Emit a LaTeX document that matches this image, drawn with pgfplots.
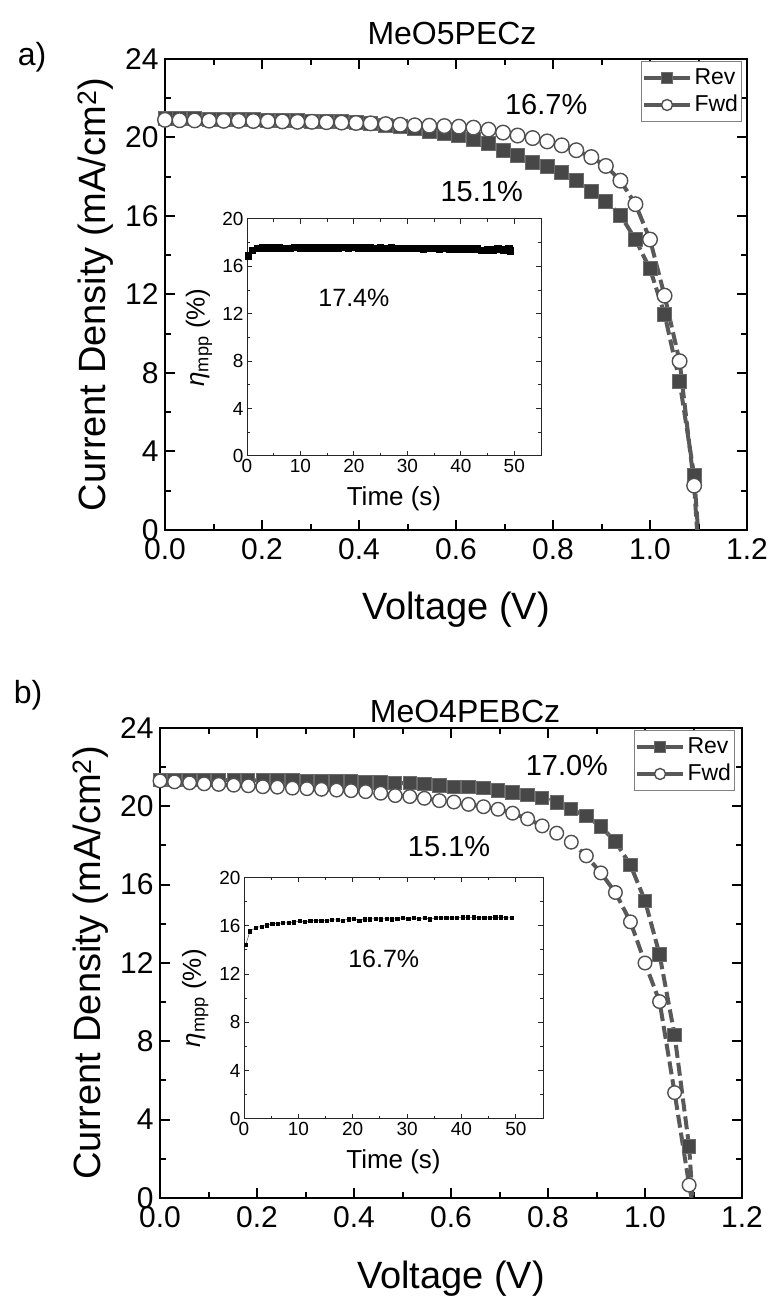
\documentclass[border=0pt]{standalone}
\usepackage{fontspec}
\setmainfont{Liberation Sans}
\usepackage{pgfplots}
\pgfplotsset{compat=1.18}
\usepackage{pgfplotstable}

\definecolor{lin}{HTML}{595959}
\definecolor{sqf}{HTML}{474747}
\definecolor{sqd}{HTML}{6B6B6B}
\definecolor{cid}{HTML}{505050}

\pgfplotstableread{
V rev fwd
0.000 20.95 20.90
0.030 20.95 20.88
0.061 20.95 20.87
0.091 20.93 20.86
0.121 20.92 20.85
0.152 20.90 20.85
0.182 20.90 20.84
0.212 20.88 20.83
0.242 20.87 20.82
0.273 20.85 20.80
0.303 20.83 20.80
0.333 20.82 20.78
0.364 20.80 20.76
0.394 20.75 20.74
0.424 20.70 20.72
0.455 20.63 20.68
0.485 20.55 20.65
0.515 20.45 20.62
0.545 20.33 20.60
0.576 20.20 20.58
0.606 20.08 20.55
0.636 19.90 20.50
0.667 19.67 20.40
0.697 19.35 20.25
0.727 19.06 20.10
0.758 18.75 19.97
0.788 18.50 19.80
0.818 18.20 19.60
0.848 17.80 19.35
0.879 17.27 19.00
0.909 16.75 18.55
0.939 16.05 17.80
0.970 14.80 16.60
1.000 13.30 14.80
1.030 11.00 11.94
1.061 7.56 8.60
1.091 2.77 2.26
}\dataA

\pgfplotstableread{
V rev fwd
0.000 21.35 21.30
0.030 21.35 21.25
0.061 21.35 21.20
0.091 21.35 21.15
0.121 21.35 21.12
0.152 21.33 21.08
0.182 21.33 21.05
0.212 21.33 21.00
0.242 21.32 20.98
0.273 21.32 20.93
0.303 21.30 20.90
0.333 21.30 20.87
0.364 21.30 20.83
0.394 21.28 20.80
0.424 21.25 20.75
0.455 21.22 20.67
0.485 21.18 20.55
0.515 21.18 20.50
0.545 21.14 20.41
0.576 21.06 20.29
0.606 21.00 20.22
0.636 21.00 20.10
0.667 20.95 19.98
0.697 20.80 19.85
0.727 20.70 19.65
0.758 20.58 19.36
0.788 20.41 19.00
0.818 20.19 18.63
0.848 19.85 18.17
0.879 19.51 17.47
0.909 18.96 16.60
0.939 18.20 15.60
0.970 17.00 14.10
1.000 15.18 12.00
1.030 12.43 10.03
1.061 8.32 5.38
1.091 2.62 0.66
}\dataB

\pgfplotstableread{
t eta
0.3 16.90
1 17.35
2 17.50
3 17.55
4 17.55
5 17.55
6 17.55
7 17.50
8 17.50
9 17.60
10 17.55
11 17.55
12 17.55
13 17.55
14 17.55
15 17.55
16 17.55
17 17.55
18 17.60
19 17.55
20 17.60
21 17.55
22 17.55
23 17.55
24 17.50
25 17.55
26 17.50
27 17.55
28 17.50
29 17.50
30 17.50
31 17.50
32 17.50
33 17.45
34 17.50
35 17.50
36 17.45
37 17.50
38 17.45
39 17.45
40 17.45
41 17.45
42 17.45
43 17.45
44 17.35
45 17.40
46 17.40
47 17.45
48 17.40
49 17.45
49.3 17.30
}\mppA

\pgfplotstableread{
t eta
0.3 14.40
1.1 15.55
2.2 15.85
3.2 15.95
4.2 16.05
5.2 16.15
6.2 16.20
7.2 16.25
8.2 16.25
9.2 16.30
10.2 16.40
11.2 16.35
12.2 16.40
13.2 16.45
14.2 16.45
15.2 16.45
16.2 16.50
17.2 16.50
18.2 16.45
19.2 16.55
20.2 16.60
21.2 16.45
22.2 16.55
23.2 16.55
24.2 16.60
25.2 16.55
26.2 16.60
27.2 16.55
28.2 16.60
29.2 16.65
30.2 16.60
31.2 16.65
32.2 16.60
33.2 16.65
34.2 16.55
35.2 16.65
36.2 16.65
37.2 16.65
38.2 16.65
39.2 16.65
40.2 16.70
41.2 16.70
42.2 16.70
43.2 16.65
44.2 16.65
45.2 16.65
46.2 16.70
47.2 16.70
48.2 16.65
49.2 16.65
}\mppB

\pgfplotsset{
  mainax/.style={
    scale only axis, width=582pt,
    xmin=0, xmax=1.2, ymin=0, ymax=24,
    xtick={0,0.2,0.4,0.6,0.8,1.0,1.2},
    xticklabels={0.0,0.2,0.4,0.6,0.8,1.0,1.2},
    ytick={0,4,8,12,16,20,24},
    minor x tick num=1, minor y tick num=1,
    tick align=inside, xtick pos=both, ytick pos=both,
    axis line style={line width=2.5pt},
    major tick length=10pt, minor tick length=6pt,
    tick style={line width=2pt, black},
    tick label style={font=\fontsize{30}{32}\selectfont},
    xticklabel style={yshift=-5pt},
    yticklabel style={xshift=-3pt},
    /pgf/number format/assume math mode=true,
    xlabel={Voltage (V)},
    ylabel={Current Density (mA/cm\textsuperscript{2})},
    label style={font=\fontsize{38}{40}\selectfont},
    ylabel style={at={(axis description cs:-0.1186,0.5)}, anchor=center},
    legend cell align=left,
    legend style={draw=gray, line width=1pt, fill=white,
      font=\fontsize{23}{25}\selectfont, inner xsep=1pt, inner ysep=4pt,
      row sep=2pt, nodes={inner sep=2.5pt, text height=17pt, text depth=3pt}},
    legend image code/.code={%
      \draw[mark repeat=2, mark phase=2, #1, solid, mark size=5.5pt]
        plot coordinates {(0pt,0pt) (23pt,0pt) (46pt,0pt)};},
  },
  rev/.style={color=lin, line width=4pt, dash pattern=on 13pt off 5pt,
    mark=square*, mark size=7pt,
    mark options={solid, fill=sqf, draw=sqd, line width=1pt}},
  fwd/.style={color=lin, line width=4pt, dash pattern=on 13pt off 5pt,
    mark=*, mark size=7.3pt,
    mark options={solid, fill=white, draw=cid, line width=1.4pt}},
  tail/.style={color=lin, line width=4pt, dash pattern=on 13pt off 5pt, forget plot},
  inset/.style={
    scale only axis,
    xmin=0, xmax=55, ymin=0, ymax=20,
    xtick={0,10,20,30,40,50}, ytick={0,4,8,12,16,20},
    minor x tick num=1, minor y tick num=1,
    tick align=inside, xtick pos=both, ytick pos=both,
    axis line style={line width=1pt, black!85},
    major tick length=5pt, minor tick length=3pt,
    tick style={line width=1pt, black!85},
    tick label style={font=\fontsize{19}{20}\selectfont},
    /pgf/number format/assume math mode=true,
    xlabel={Time (s)},
    ylabel={{\itshape η}\textsubscript{mpp} (\%)},
    label style={font=\fontsize{26}{28}\selectfont},
    xlabel style={at={(axis description cs:0.5,-0.207)}, anchor=base},
    ylabel style={at={(axis description cs:-0.163,0.5)}, anchor=center},
    axis background/.style={fill=white},
  },
}

\begin{document}
\begin{tikzpicture}
\path[use as bounding box] (0pt,0pt) rectangle (774pt,1297pt);

% ---------- panel a ----------
\node[font=\fontsize{32}{34}\selectfont] at (32pt,1240pt) {a)};
\node[font=\fontsize{32}{34}\selectfont] at (452pt,1263.5pt) {MeO5PECz};
\begin{axis}[mainax, at={(165pt,767pt)}, anchor=south west, height=471pt,
  xlabel style={at={(axis description cs:0.5,-0.191)}, anchor=base},
  legend style={at={(axis description cs:1,1)}, anchor=north east, xshift=-5pt, yshift=-2pt}]
  \addplot[tail] coordinates {(1.091,2.77) (1.099,0) (1.108,-3)};
  \addplot[tail] coordinates {(1.091,2.26) (1.097,0) (1.106,-3)};
  \addplot[rev] table[x=V, y=rev] {\dataA};
  \addlegendentry{Rev}
  \addplot[fwd] table[x=V, y=fwd] {\dataA};
  \addlegendentry{Fwd}
  \node[font=\fontsize{29}{31}\selectfont] at (axis cs:0.786,21.66) {16.7\%};
  \node[font=\fontsize{29}{31}\selectfont] at (axis cs:0.653,17.22) {15.1\%};
\end{axis}
\begin{axis}[inset, at={(247pt,841pt)}, anchor=south west, width=294pt, height=237pt]
  \addplot[black, line width=2pt, mark=square*, mark size=2.8pt] table[x=t, y=eta] {\mppA};
  \node[font=\fontsize{25}{27}\selectfont] at (axis cs:20,13.33) {17.4\%};
\end{axis}

% ---------- panel b ----------
\node[font=\fontsize{32}{34}\selectfont] at (28pt,602pt) {b)};
\node[font=\fontsize{32}{34}\selectfont] at (465pt,585.5pt) {MeO4PEBCz};
\begin{axis}[mainax, at={(160pt,99pt)}, anchor=south west, height=470pt,
  xlabel style={at={(axis description cs:0.5,-0.1915)}, anchor=base},
  legend style={at={(axis description cs:1,1)}, anchor=north east, xshift=-7pt, yshift=-2pt}]
  \addplot[tail] coordinates {(1.091,2.62) (1.098,0) (1.107,-3)};
  \addplot[tail] coordinates {(1.091,0.66) (1.096,0) (1.104,-3)};
  \addplot[rev, mark size=6.7pt] table[x=V, y=rev] {\dataB};
  \addlegendentry{Rev}
  \addplot[fwd, mark size=6.8pt] table[x=V, y=fwd] {\dataB};
  \addlegendentry{Fwd}
  \node[font=\fontsize{29}{31}\selectfont] at (axis cs:0.839,22.1) {17.0\%};
  \node[font=\fontsize{29}{31}\selectfont] at (axis cs:0.596,17.93) {15.1\%};
\end{axis}
\begin{axis}[inset, at={(244pt,178pt)}, anchor=south west, width=299pt, height=241.5pt]
  \addplot[black!70, line width=0.5pt, mark=square*, mark size=1.6pt,
    mark options={black}] table[x=t, y=eta] {\mppB};
  \node[font=\fontsize{25}{27}\selectfont] at (axis cs:25.7,13.3) {16.7\%};
\end{axis}
\end{tikzpicture}
\end{document}
